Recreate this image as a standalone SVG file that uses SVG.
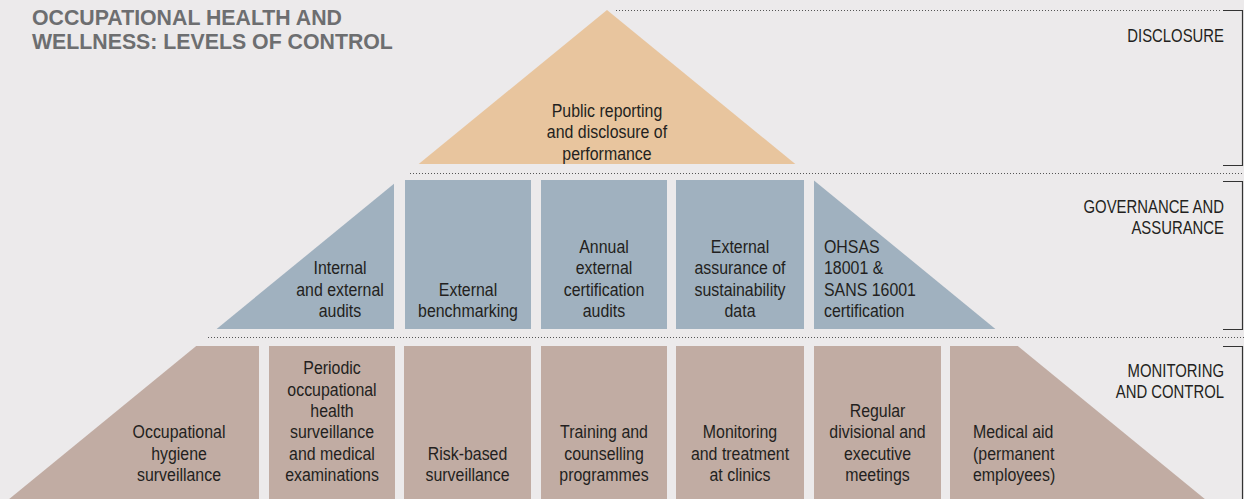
<svg xmlns="http://www.w3.org/2000/svg" width="1244" height="499" viewBox="0 0 1244 499">
<style>
.bg{fill:#ECEAEB}
.dis{fill:#E8C59E}
.gov{fill:#A0B1BF}
.mon{fill:#C1ACA3}
.t{font-family:"Liberation Sans",Arial,sans-serif;font-size:18.5px;fill:#231F20}
.c{text-anchor:middle}
.lbl{font-family:"Liberation Sans",Arial,sans-serif;font-size:17.5px;fill:#231F20;text-anchor:end}
.title{font-family:"Liberation Sans",Arial,sans-serif;font-size:21.3px;font-weight:bold;fill:#6D6E70}
.dot{stroke:#555;stroke-width:1;stroke-dasharray:1 2;fill:none}
.br{stroke:#333;stroke-width:1.2;fill:none}
</style>
<rect class="bg" x="0" y="0" width="1244" height="499"/>
<g id="title">
<text class="title" x="32" y="25">OCCUPATIONAL HEALTH AND</text>
<text class="title" x="32" y="49">WELLNESS: LEVELS OF CONTROL</text>
</g>
<g id="connectors">
<line class="dot" x1="616" y1="10.5" x2="1220" y2="10.5"/>
<line class="dot" x1="410" y1="173.5" x2="1244" y2="173.5"/>
<line class="dot" x1="208" y1="337.5" x2="1244" y2="337.5"/>
<path class="br" d="M1223 10.5H1242.5V165.5H1223"/>
<path class="br" d="M1223 181.5H1242.5V329.5H1223"/>
<path class="br" d="M1223 346.5H1242.5V499"/>
</g>
<g id="label-disclosure"><text class="lbl" transform="translate(1224 0) scale(0.85 1)" y="42">DISCLOSURE</text></g>
<g id="label-governance">
<text class="lbl" transform="translate(1224 0) scale(0.85 1)" y="213">GOVERNANCE AND</text>
<text class="lbl" transform="translate(1224 0) scale(0.85 1)" y="234">ASSURANCE</text>
</g>
<g id="label-monitoring">
<text class="lbl" transform="translate(1224 0) scale(0.85 1)" y="377">MONITORING</text>
<text class="lbl" transform="translate(1224 0) scale(0.85 1)" y="398">AND CONTROL</text>
</g>

<g id="n-public">
<polygon class="dis" points="607,10 418.7,164 795.3,164"/>
<g transform="translate(607 0) scale(0.86 1)">
<text class="t c" y="117">Public reporting</text>
<text class="t c" y="138.3">and disclosure of</text>
<text class="t c" y="159.6">performance</text>
</g>
</g>

<g id="n-audits">
<polygon class="gov" points="394,183.7 394,329 216.6,329"/>
<g transform="translate(340 0) scale(0.86 1)">
<text class="t c" y="274.4">Internal</text>
<text class="t c" y="295.7">and external</text>
<text class="t c" y="317">audits</text>
</g>
</g>
<g id="n-benchmarking">
<rect class="gov" x="405" y="180" width="126" height="149"/>
<g transform="translate(468 0) scale(0.86 1)">
<text class="t c" y="295.7">External</text>
<text class="t c" y="317">benchmarking</text>
</g>
</g>
<g id="n-certification-audits">
<rect class="gov" x="541" y="180" width="126" height="149"/>
<g transform="translate(604 0) scale(0.86 1)">
<text class="t c" y="253.1">Annual</text>
<text class="t c" y="274.4">external</text>
<text class="t c" y="295.7">certification</text>
<text class="t c" y="317">audits</text>
</g>
</g>
<g id="n-assurance">
<rect class="gov" x="676" y="180" width="128" height="149"/>
<g transform="translate(740 0) scale(0.86 1)">
<text class="t c" y="253.1">External</text>
<text class="t c" y="274.4">assurance of</text>
<text class="t c" y="295.7">sustainability</text>
<text class="t c" y="317">data</text>
</g>
</g>
<g id="n-ohsas">
<polygon class="gov" points="814,180.4 995.4,329 814,329"/>
<g transform="translate(824 0) scale(0.86 1)">
<text class="t" y="253.1">OHSAS</text>
<text class="t" y="274.4">18001 &amp;</text>
<text class="t" y="295.7">SANS 16001</text>
<text class="t" y="317">certification</text>
</g>
</g>

<g id="n-hygiene">
<polygon class="mon" points="196.2,346 259,346 259,499 9.2,499"/>
<g transform="translate(179 0) scale(0.86 1)">
<text class="t c" y="438.4">Occupational</text>
<text class="t c" y="459.7">hygiene</text>
<text class="t c" y="481">surveillance</text>
</g>
</g>
<g id="n-periodic">
<rect class="mon" x="269" y="346" width="126" height="153"/>
<g transform="translate(332 0) scale(0.86 1)">
<text class="t c" y="374.5">Periodic</text>
<text class="t c" y="395.8">occupational</text>
<text class="t c" y="417.1">health</text>
<text class="t c" y="438.4">surveillance</text>
<text class="t c" y="459.7">and medical</text>
<text class="t c" y="481">examinations</text>
</g>
</g>
<g id="n-risk">
<rect class="mon" x="404" y="346" width="127" height="153"/>
<g transform="translate(467.5 0) scale(0.86 1)">
<text class="t c" y="459.7">Risk-based</text>
<text class="t c" y="481">surveillance</text>
</g>
</g>
<g id="n-training">
<rect class="mon" x="541" y="346" width="126" height="153"/>
<g transform="translate(604 0) scale(0.86 1)">
<text class="t c" y="438.4">Training and</text>
<text class="t c" y="459.7">counselling</text>
<text class="t c" y="481">programmes</text>
</g>
</g>
<g id="n-clinics">
<rect class="mon" x="676" y="346" width="128" height="153"/>
<g transform="translate(740 0) scale(0.86 1)">
<text class="t c" y="438.4">Monitoring</text>
<text class="t c" y="459.7">and treatment</text>
<text class="t c" y="481">at clinics</text>
</g>
</g>
<g id="n-meetings">
<rect class="mon" x="814" y="346" width="127" height="153"/>
<g transform="translate(877.5 0) scale(0.86 1)">
<text class="t c" y="417.1">Regular</text>
<text class="t c" y="438.4">divisional and</text>
<text class="t c" y="459.7">executive</text>
<text class="t c" y="481">meetings</text>
</g>
</g>
<g id="n-medical">
<polygon class="mon" points="950,346 1017.8,346 1204.8,499 950,499"/>
<g transform="translate(973 0) scale(0.86 1)">
<text class="t" y="438.4">Medical aid</text>
<text class="t" y="459.7">(permanent</text>
<text class="t" y="481">employees)</text>
</g>
</g>
</svg>
